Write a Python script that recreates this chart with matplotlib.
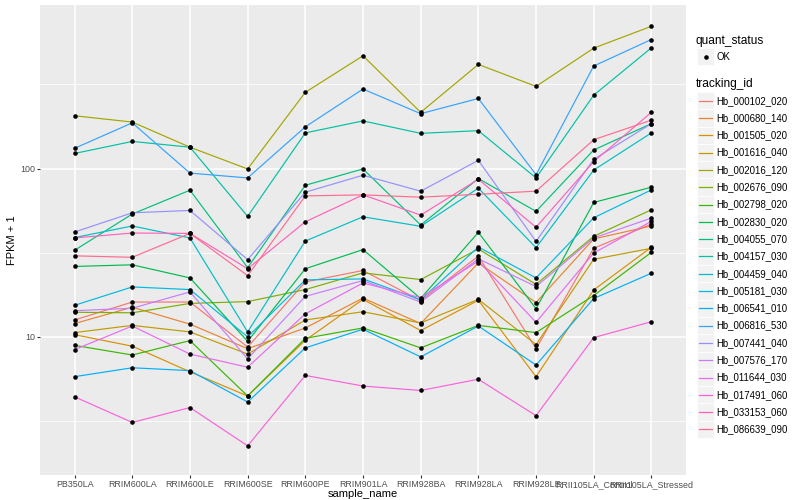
import matplotlib
matplotlib.use("Agg")
import matplotlib.pyplot as plt
from matplotlib.lines import Line2D
from matplotlib.patches import Rectangle
from matplotlib.ticker import FixedLocator, NullFormatter

plt.rcParams['font.family'] = ['Liberation Sans Narrow', 'Liberation Sans', 'DejaVu Sans']

samples = ["PB350LA", "RRIM600LA", "RRIM600LE", "RRIM600SE", "RRIM600PE", "RRIM901LA",
           "RRIM928BA", "RRIM928LA", "RRIM928LE", "RRII105LA_Control", "RRII105LA_Stressed"]

tracking_ids = ["Hb_000102_020", "Hb_000680_140", "Hb_001505_020", "Hb_001616_040",
                "Hb_002016_120", "Hb_002676_090", "Hb_002798_020", "Hb_002830_020",
                "Hb_004055_070", "Hb_004157_030", "Hb_004459_040", "Hb_005181_030",
                "Hb_006541_010", "Hb_006816_530", "Hb_007441_040", "Hb_007576_170",
                "Hb_011644_030", "Hb_017491_060", "Hb_033153_060", "Hb_086639_090"]

# FPKM + 1 per sample
hb_000102_020 = [12.6, 16.1, 16.1, 8.7, 21.2, 24.8, 16.4, 30.2, 8.5, 33.6, 46.8]
hb_000680_140 = [12.0, 15.0, 11.9, 8.5, 11.3, 17.0, 12.0, 27.5, 16.0, 38.2, 45.6]
hb_001505_020 = [10.3, 8.8, 6.2, 4.45, 9.55, 16.7, 10.9, 16.5, 5.8, 19.0, 34.1]
hb_001616_040 = [10.6, 11.7, 10.7, 7.9, 12.6, 14.1, 12.1, 16.7, 9.0, 28.9, 33.6]
hb_002016_120 = [206, 189, 134, 99.5, 284, 468, 216, 416, 308, 520, 701]
hb_002676_090 = [14.0, 13.9, 15.8, 16.2, 19.1, 24.0, 21.9, 33.3, 20.5, 39.6, 56.9]
hb_002798_020 = [8.9, 7.8, 9.5, 4.45, 9.8, 11.3, 8.6, 11.7, 10.6, 17.6, 31.8]
hb_002830_020 = [26.2, 26.8, 22.4, 9.4, 25.4, 33.0, 16.9, 41.8, 14.7, 62.9, 77.5]
hb_004055_070 = [32.7, 53.7, 74.4, 25.8, 79.6, 99.5, 46.2, 87.3, 55.7, 129, 185]
hb_004157_030 = [123, 145, 134, 52, 163, 192, 162, 168, 88, 273, 522]
hb_004459_040 = [38.9, 45.6, 38.7, 10.7, 37.1, 51.7, 45.4, 76.5, 33.9, 98, 163]
hb_005181_030 = [15.4, 19.8, 19.1, 10.0, 21.8, 22.1, 16.6, 34.2, 22.4, 51.0, 74.7]
hb_006541_010 = [5.8, 6.55, 6.3, 4.1, 8.6, 11.1, 7.6, 11.6, 6.8, 16.9, 23.9]
hb_006816_530 = [132, 187, 94, 88, 177, 297, 212, 261, 92, 407, 585]
hb_007441_040 = [42, 54.6, 56.4, 28.8, 72.4, 91.3, 73.4, 112, 36.9, 113.5, 185]
hb_007576_170 = [14.3, 14.8, 18.5, 7.4, 17.4, 21.6, 16.1, 29.1, 19.9, 38.7, 50.8]
hb_011644_030 = [8.4, 11.6, 7.9, 6.6, 13.7, 20.9, 17.1, 28.2, 12.2, 31.5, 48.6]
hb_017491_060 = [4.4, 3.1, 3.8, 2.25, 5.9, 5.1, 4.8, 5.6, 3.4, 9.9, 12.3]
hb_033153_060 = [38.7, 41.4, 41.2, 25.4, 48.3, 69.8, 52.9, 86.4, 44.8, 110, 216]
hb_086639_090 = [30.3, 29.7, 41.2, 23.1, 68.8, 69.8, 67.6, 70.4, 73.4, 148.5, 194]

series = [hb_000102_020, hb_000680_140, hb_001505_020, hb_001616_040, hb_002016_120,
          hb_002676_090, hb_002798_020, hb_002830_020, hb_004055_070, hb_004157_030,
          hb_004459_040, hb_005181_030, hb_006541_010, hb_006816_530, hb_007441_040,
          hb_007576_170, hb_011644_030, hb_017491_060, hb_033153_060, hb_086639_090]

colors = ["#F8766D", "#EA8331", "#D89000", "#C09B00", "#A3A500", "#7CAE00", "#39B600",
          "#00BB4E", "#00BF7D", "#00C1A3", "#00BFC4", "#00BAE0", "#00B0F6", "#35A2FF",
          "#9590FF", "#C77CFF", "#E76BF3", "#FA62DB", "#FF62BC", "#FF6C91"]

W, H = 800, 500
fig = plt.figure(figsize=(8, 5), dpi=100)
fig.patch.set_facecolor('white')
ax = fig.add_axes([40 / W, 25 / H, 646 / W, 470 / H])
ax.set_facecolor('#EBEBEB')
ax.set_yscale('log')

xpos = list(range(1, len(samples) + 1))
for vals, col in zip(series, colors):
    ax.plot(xpos, vals, color=col, lw=0.85, zorder=2, solid_capstyle='butt')
for vals in series:
    ax.plot(xpos, vals, 'o', color='black', ms=3.3, mew=0, zorder=3)

ax.set_xlim(0.4, 11.6)
ax.set_ylim(1.51, 938)
ax.yaxis.set_major_locator(FixedLocator([10, 100]))
ax.yaxis.set_minor_locator(FixedLocator([10 ** 0.5, 10 ** 1.5, 10 ** 2.5]))
ax.yaxis.set_minor_formatter(NullFormatter())
ax.set_yticklabels(['10', '100'])
ax.set_xticks(xpos)
ax.set_xticklabels(samples)
ax.grid(which='major', color='white', lw=1.1)
ax.grid(which='minor', axis='y', color='white', lw=0.55)
ax.set_axisbelow(True)
for s in ax.spines.values():
    s.set_visible(False)
ax.tick_params(which='major', length=2.4, width=0.8, color='#333333',
               labelsize=6.4, labelcolor='#4D4D4D', pad=1.0)
ax.tick_params(which='minor', length=0)

ax.set_xlabel('sample_name', fontsize=8.0, labelpad=0.5)
ax.set_ylabel('FPKM + 1', fontsize=8.0, labelpad=2)


def fx(px):
    return px / W


def fy(py):
    return 1 - py / H


# legend: quant_status
fig.text(fx(696), fy(40.7), 'quant_status', fontsize=8.6, va='center', ha='left')
fig.patches.append(Rectangle((fx(697), fy(65.3)), 17 / W, 17 / H, transform=fig.transFigure,
                             facecolor='#F2F2F2', edgecolor='white', lw=0.5))
fig.lines.append(Line2D([fx(705.5)], [fy(56.7)], marker='o', color='black', ms=3.3, mew=0,
                        transform=fig.transFigure))
fig.text(fx(716.5), fy(56.7), 'OK', fontsize=6.9, va='center', ha='left')

# legend: tracking_id
fig.text(fx(696), fy(84.3), 'tracking_id', fontsize=8.6, va='center', ha='left')
for i, (tid, col) in enumerate(zip(tracking_ids, colors)):
    cy = 100.7 + 17.3 * i
    fig.patches.append(Rectangle((fx(697), fy(cy + 8.6)), 17 / W, 17.3 / H,
                                 transform=fig.transFigure, facecolor='#F2F2F2',
                                 edgecolor='white', lw=0.5))
    fig.lines.append(Line2D([fx(699), fx(712)], [fy(cy), fy(cy)], color=col, lw=0.9,
                            transform=fig.transFigure))
    fig.text(fx(716.5), fy(cy), tid, fontsize=6.9, va='center', ha='left')

fig.savefig('out.png', dpi=100)
